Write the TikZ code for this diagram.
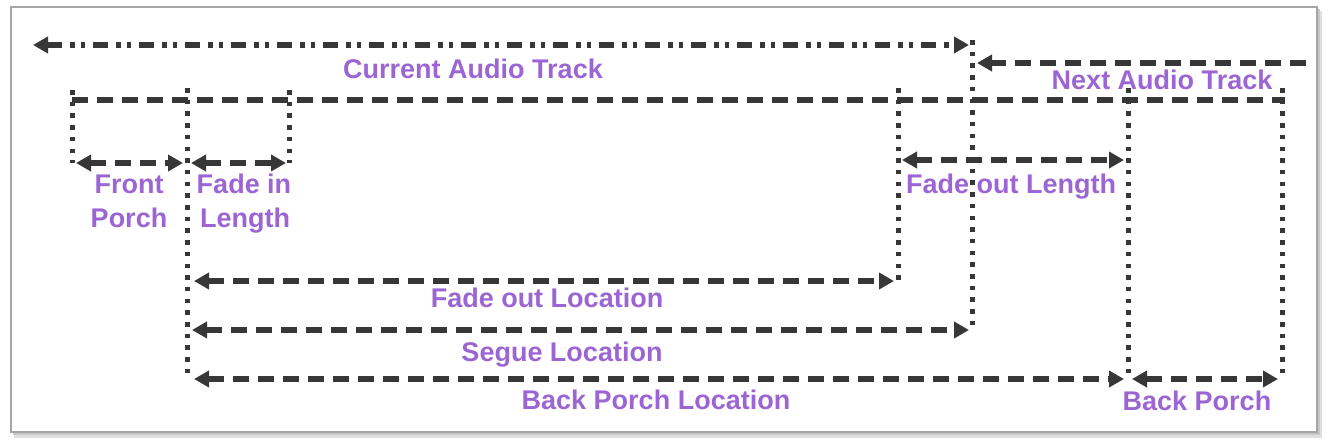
\documentclass[tikz,border=0pt]{standalone}
\usepackage{fontspec}
\setmainfont{Liberation Sans}
\usetikzlibrary{arrows.meta}
\definecolor{ink}{RGB}{55,55,55}
\definecolor{lblc}{RGB}{155,102,212}
\definecolor{framec}{RGB}{165,165,165}
\tikzset{
  dimline/.style={line width=5.5pt, ink, dash pattern=on 16pt off 9pt},
  dashdotline/.style={line width=5.5pt, ink, dash pattern=on 15pt off 8pt on 4.5pt off 6pt on 4.5pt off 8pt},
  guide/.style={line width=5pt, ink, dash pattern=on 4.5pt off 7.2pt},
  both/.style={arrows={Triangle[length=15pt,width=16pt]-Triangle[length=15pt,width=16pt]}},
  tip/.style={arrows={-Triangle[length=15pt,width=16pt]}},
  lbl/.style={inner sep=0pt, text=lblc, font=\bfseries\fontsize{27}{30}\selectfont, text height=19.5pt, text depth=0pt},
}
\begin{document}
\begin{tikzpicture}[x=1pt,y=-1pt]
\useasboundingbox (0,0) rectangle (1328,445);
% frame with shadow
\fill[black!12] (14,11) rectangle (1322,438);
\fill[black!22] (13,9) rectangle (1320,435);
\draw[framec, line width=2pt, fill=white] (11,7) rectangle (1317,432);

% coordinates
\coordinate (g72t) at (72,90);   \coordinate (g72b) at (72,163);
\coordinate (g187t) at (187,88); \coordinate (g187b) at (187,380);
\coordinate (g289t) at (289,90); \coordinate (g289b) at (289,163);
\coordinate (g898t) at (898,88); \coordinate (g898b) at (898,282);
\coordinate (g972t) at (972,40); \coordinate (g972b) at (972,330);
\coordinate (g1128t) at (1128,88); \coordinate (g1128b) at (1128,380);
\coordinate (g1282t) at (1282,88); \coordinate (g1282b) at (1282,380);

\coordinate (mainL) at (72,100); \coordinate (mainR) at (1285,100);

\coordinate (curL) at (33,45); \coordinate (curR) at (969,45);
\coordinate (nextL) at (977,63); \coordinate (nextR) at (1306,63);

\coordinate (fpL) at (76,163); \coordinate (fpR) at (183,163);
\coordinate (fiL) at (191,163); \coordinate (fiR) at (286,163);
\coordinate (folL) at (902,160); \coordinate (folR) at (1124,160);
\coordinate (foxL) at (194,281); \coordinate (foxR) at (894,281);
\coordinate (segL) at (192,330); \coordinate (segR) at (969,330);
\coordinate (bplL) at (194,379); \coordinate (bplR) at (1124,379);
\coordinate (bpL) at (1132,379); \coordinate (bpR) at (1278,379);

% guides
\foreach \g in {72,187,289,898,972,1128,1282}
  \draw[guide] (g\g t) -- (g\g b);

% main line
\draw[dimline] (mainL) -- (mainR);

% track arrows
\draw[dashdotline, both] (curL) -- (curR);
\draw[dimline, tip] (nextR) -- (nextL);

% dimension arrows
\draw[dimline, both] (fpL) -- (fpR);
\draw[dimline, both] (fiL) -- (fiR);
\draw[dimline, both] (folL) -- (folR);
\draw[dimline, both] (foxL) -- (foxR);
\draw[dimline, both] (segL) -- (segR);
\draw[dimline, both] (bplL) -- (bplR);
\draw[dimline, both] (bpL) -- (bpR);

% labels
\node[lbl] (lcur) at (473,69) {Current Audio Track};
\node[lbl] (lnext) at (1162,80) {Next Audio Track};
\node[lbl] (lfront) at (129,184) {Front};
\node[lbl] (lporch) at (129,218) {Porch};
\node[lbl] (lfade) at (244,184) {Fade in};
\node[lbl] (llen) at (245,218) {Length};
\node[lbl] (lfol) at (1011,184) {Fade out Length};
\node[lbl] (lfox) at (547,298) {Fade out Location};
\node[lbl] (lseg) at (562,352) {Segue Location};
\node[lbl] (lbpl) at (656,400) {Back Porch Location};
\node[lbl] (lbp) at (1197,401) {Back Porch};
\end{tikzpicture}
\end{document}
